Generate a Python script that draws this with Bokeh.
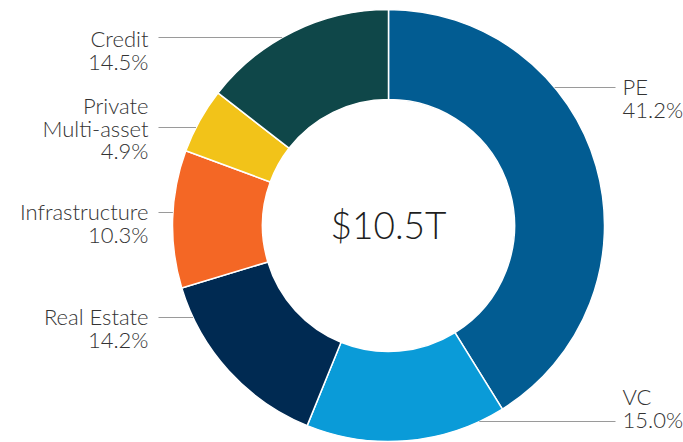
import math
from bokeh.plotting import figure
from bokeh.models import ColumnDataSource
from bokeh.core.properties import value
from bokeh.embed import file_html
from bokeh.resources import INLINE

# ---- data ----
categories = ["PE", "VC", "Real Estate", "Infrastructure", "Private Multi-asset", "Credit"]
shares = [41.2, 15.0, 14.2, 10.3, 4.9, 14.5]
label_lines = [["PE", "41.2%"], ["VC", "15.0%"], ["Real Estate", "14.2%"],
               ["Infrastructure", "10.3%"], ["Private", "Multi-asset", "4.9%"],
               ["Credit", "14.5%"]]
center_label = "$10.5T"

# ---- styles / layout ----
colors = ["#025C92", "#0A9BD8", "#002A52", "#F46725", "#F2C319", "#0F4749"]
W, H = 683, 442
FONT = "Lato Light"


def fy(page_y):
    return H - page_y


def fx(page_x):
    return page_x


CX, CY = fx(388), fy(225)
R_OUT, R_IN = 216, 126
# label layout: (side, first line page-y, leader page-y)
label_layout = [("right", 86, 87), ("right", 396, 421), ("left", 316, 317),
                ("left", 211, 212), ("left", 105, 127), ("left", 38, 37)]
LINE_H = 22.5
LEFT_X, RIGHT_X = fx(148), fx(622)
LEFT_LINE_X, RIGHT_LINE_X = fx(158), fx(615)

total = sum(shares)
starts, ends = [], []
cum = 0.0
for s in shares:
    a0 = math.pi / 2 - 2 * math.pi * (cum + s) / total
    a1 = math.pi / 2 - 2 * math.pi * cum / total
    starts.append(a0)
    ends.append(a1)
    cum += s

src = ColumnDataSource(dict(cat=categories, start=starts, end=ends, color=colors))

p = figure(width=W, height=H, x_range=(0, W), y_range=(0, H),
           output_backend="svg", toolbar_location=None, min_border=0)
p.axis.visible = False
p.grid.visible = False
p.outline_line_color = None
p.background_fill_color = "white"
p.border_fill_color = "white"

p.annular_wedge(x=CX, y=CY, inner_radius=R_IN, outer_radius=R_OUT,
                start_angle="start", end_angle="end", fill_color="color",
                line_color="white", line_width=1.5, source=src)

# leader lines + labels
for lines, (side, y0, ly) in zip(label_lines, label_layout):
    dy = fy(ly) - CY
    half = math.sqrt(max(R_OUT ** 2 - dy ** 2, 0))
    if side == "left":
        xs = [LEFT_LINE_X, CX - half]
        tx, align = LEFT_X, "right"
    else:
        xs = [CX + half, RIGHT_LINE_X]
        tx, align = RIGHT_X, "left"
    p.line(xs, [fy(ly), fy(ly)], line_color="#9a9a9a", line_width=1.2)
    ys = [fy(y0 + i * LINE_H) for i in range(len(lines))]
    p.text(x=[tx] * len(lines), y=ys, text=lines, text_align=align,
           text_baseline="middle", text_font=value(FONT),
           text_font_size="22px", text_color="#333333")

p.text(x=[CX], y=[fy(224)], text=[center_label], text_align="center",
       text_baseline="middle", text_font=value(FONT),
       text_font_size="37px", text_color="#1e1e1e")

open("out.html", "w").write(file_html(p, INLINE))
